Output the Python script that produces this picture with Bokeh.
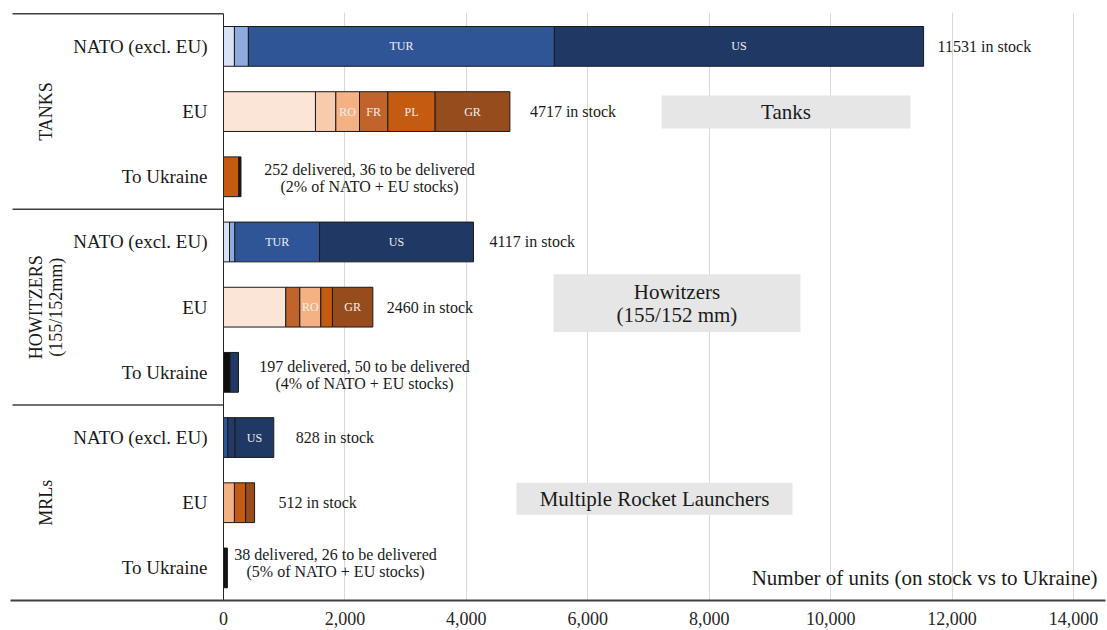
from bokeh.plotting import figure
from bokeh.models import Range1d, FixedTicker, NumeralTickFormatter
from bokeh.core.properties import value
from bokeh.embed import file_html
from bokeh.resources import INLINE
import math

FONT = "Liberation Serif"

# ---------------- data ----------------
row_labels = ["NATO (excl. EU)", "EU", "To Ukraine",
              "NATO (excl. EU)", "EU", "To Ukraine",
              "NATO (excl. EU)", "EU", "To Ukraine"]
group_labels = ["TANKS", "HOWITZERS\n(155/152mm)", "MRLs"]

tanks_nato = [180, 230, 5040, 6081]
tanks_nato_lbl = ["", "", "TUR", "US"]
tanks_eu = [1515, 335, 390, 467, 779, 1231]
tanks_eu_lbl = ["", "", "RO", "FR", "PL", "GR"]
tanks_ukr = [252, 36]

how_nato = [99, 88, 1395, 2535]
how_nato_lbl = ["", "", "TUR", "US"]
how_eu = [1026, 231, 346, 192, 665]
how_eu_lbl = ["", "", "RO", "", "GR"]
how_ukr = [110, 137]

mrl_nato = [70, 120, 638]
mrl_nato_lbl = ["", "", "US"]
mrl_eu = [180, 185, 147]
mrl_ukr = [38, 26]

stock_totals = [11531, 4717, 4117, 2460, 828, 512]
ukr_delivered = [252, 197, 38]
ukr_pending = [36, 50, 26]
ukr_pct = [2, 4, 5]

box_labels = ["Tanks", "Howitzers\n(155/152 mm)", "Multiple Rocket Launchers"]
x_ticks = [0, 2000, 4000, 6000, 8000, 10000, 12000, 14000]

# ---------------- styles ----------------
C_NATO = ["#dae3f3", "#8faadc", "#2f5597", "#203864"]
row_colors = [
    C_NATO,
    ["#fbe5d6", "#f8cbad", "#f4b183", "#c0642b", "#c55a11", "#974c1e"],
    ["#c55a11", "#1a1a1a"],
    C_NATO,
    ["#fbe5d6", "#c0642b", "#f4b183", "#c55a11", "#974c1e"],
    ["#0d0d0d", "#203864"],
    ["#2f5597", "#22396a", "#203864"],
    ["#f4b183", "#c55a11", "#974c1e"],
    ["#0d0d0d", "#0d0d0d"],
]
row_values = [tanks_nato, tanks_eu, tanks_ukr, how_nato, how_eu, how_ukr,
              mrl_nato, mrl_eu, mrl_ukr]
row_seg_labels = [tanks_nato_lbl, tanks_eu_lbl, [""] * 2, how_nato_lbl, how_eu_lbl,
                  [""] * 2, mrl_nato_lbl, [""] * 3, [""] * 2]

# ---------------- figure ----------------
K = 850 / 14000.0          # px per unit
X0 = -(223 - 10) / K
X1 = (1105 - 223) / K
p = figure(width=1107, height=630, x_range=Range1d(X0, X1), y_range=Range1d(9, -0.02),
           output_backend="svg", toolbar_location=None, y_axis_location=None,
           min_border_left=10, min_border_right=2, min_border_top=12, min_border_bottom=30)
p.outline_line_color = None
p.background_fill_color = "white"
p.border_fill_color = "white"

xa = p.xaxis[0]
xa.ticker = FixedTicker(ticks=x_ticks)
xa.formatter = NumeralTickFormatter(format="0,0")
xa.major_tick_line_color = None
xa.minor_tick_line_color = None
xa.axis_line_color = "#404040"
xa.axis_line_width = 2
xa.major_label_text_font = FONT
xa.major_label_text_font_size = "18px"
xa.major_label_text_color = "#262626"
xa.major_label_standoff = 5

p.xgrid.ticker = FixedTicker(ticks=x_ticks[1:])
p.xgrid.grid_line_color = "#d9d9d9"
p.xgrid.grid_line_width = 1
p.ygrid.grid_line_color = None

# ---------------- bars ----------------
left, right, ys, cols, lx, ly, lt = [], [], [], [], [], [], []
for i, (vals, colors, labs) in enumerate(zip(row_values, row_colors, row_seg_labels)):
    acc = 0
    for v, c, lab in zip(vals, colors, labs):
        left.append(acc)
        right.append(acc + v)
        ys.append(i + 0.5)
        cols.append(c)
        if lab:
            lx.append(acc + v / 2)
            ly.append(i + 0.5)
            lt.append(lab)
        acc += v

p.hbar(y=ys, left=left, right=right, height=0.61, fill_color=cols,
       line_color="#1a1a1a", line_width=1)
p.text(x=lx, y=ly, text=lt, text_align="center", text_baseline="middle",
       text_font=value(FONT), text_font_size="12px", text_color="#eeeeee")

# ---------------- axis decorations ----------------
LEFT_EDGE = -(223 - 12) / K
p.segment(x0=[LEFT_EDGE] * 3, y0=[0, 3, 6], x1=[0] * 3, y1=[0, 3, 6],
          line_color="#404040", line_width=1.5)
p.segment(x0=[0], y0=[0], x1=[0], y1=[9], line_color="#262626", line_width=1)

p.text(x=[0] * 9, y=[i + 0.5 for i in range(9)], text=row_labels, x_offset=-16,
       text_align="right", text_baseline="middle", text_font=value(FONT),
       text_font_size="19px", text_color="#1a1a1a")
p.text(x=[0] * 3, y=[1.5, 4.5, 7.5], text=group_labels, x_offset=-178, angle=math.pi / 2,
       text_align="center", text_baseline="middle", text_font=value(FONT),
       text_font_size="18px", text_color="#1a1a1a", text_line_height=1.0)

# ---------------- value annotations ----------------
stock_rows = [0, 1, 3, 4, 6, 7]
stock_offsets = [14, 20, 16, 14, 22, 24]
p.text(x=stock_totals, y=[r + 0.5 for r in stock_rows],
       text=[f"{t} in stock" for t in stock_totals], x_offset=stock_offsets,
       text_align="left", text_baseline="middle", text_font=value(FONT),
       text_font_size="16px", text_color="#1a1a1a")

ukr_rows = [2, 5, 8]
p.text(x=[0] * 3, y=[r + 0.5 for r in ukr_rows],
       text=[f"{d} delivered, {t} to be delivered\n({q}% of NATO + EU stocks)"
             for d, t, q in zip(ukr_delivered, ukr_pending, ukr_pct)],
       x_offset=[146, 141, 112], y_offset=[1, 3, -5],
       text_align="center", text_baseline="middle", text_font=value(FONT),
       text_font_size="16px", text_color="#1a1a1a", text_line_height=1.0)

# ---------------- category boxes ----------------
p.quad(left=[7214, 5435, 4826], right=[11315, 9503, 9372],
       top=[1.255, 3.995, 7.194], bottom=[1.76, 4.883, 7.684],
       fill_color="#e6e6e6", line_color=None)
p.text(x=[9265, 7469, 7099], y=[1.51, 4.44, 7.44], text=box_labels,
       text_align="center", text_baseline="middle", text_font=value(FONT),
       text_font_size="21px", text_color="#1a1a1a", text_line_height=0.95)

p.text(x=[X1], y=[8.65], x_offset=-8, text=["Number of units (on stock vs to Ukraine)"],
       text_align="right", text_baseline="middle", text_font=value(FONT),
       text_font_size="21px", text_color="#1a1a1a")

open("out.html", "w").write(file_html(p, INLINE))
